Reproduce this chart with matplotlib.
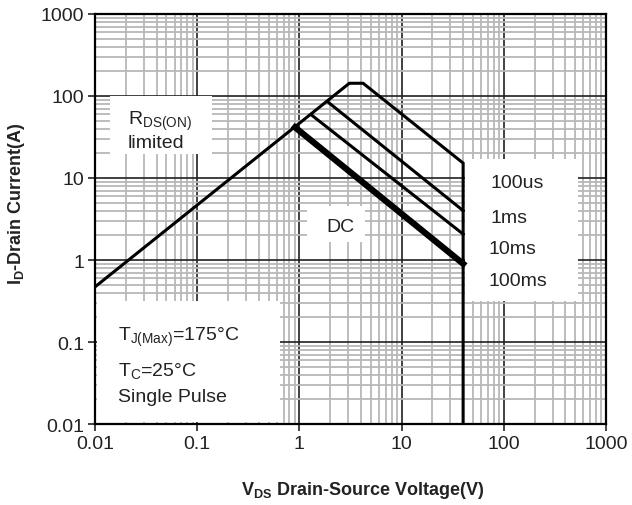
import matplotlib
matplotlib.use("Agg")
import matplotlib.pyplot as plt
from matplotlib.patches import Rectangle
from matplotlib.ticker import LogLocator, FixedLocator, FixedFormatter, NullFormatter

plt.rcParams['font.family'] = ['Liberation Sans', 'DejaVu Sans']
plt.rcParams['mathtext.fontset'] = 'custom'
plt.rcParams['mathtext.rm'] = 'Liberation Sans'
plt.rcParams['mathtext.it'] = 'Liberation Sans:italic'
plt.rcParams['mathtext.bf'] = 'Liberation Sans:bold'

# ---- data ----
v_100us = [0.01, 3.08, 4.2, 40, 40]
i_100us = [0.47, 143, 143, 15.2, 0.01]
v_1ms = [1.9, 40]
i_1ms = [84.5, 4.0]
v_10ms = [1.34, 40]
i_10ms = [57.5, 2.07]
v_dc = [0.906, 40]
i_dc = [41.5, 0.9]

x_ticks = [0.01, 0.1, 1, 10, 100, 1000]
x_tick_labels = ["0.01", "0.1", "1", "10", "100", "1000"]
y_ticks = [0.01, 0.1, 1, 10, 100, 1000]
y_tick_labels = ["0.01", "0.1", "1", "10", "100", "1000"]
duration_labels = ["100us", "1ms", "10ms", "100ms"]

fig = plt.figure(figsize=(6.32, 5.06), dpi=100)
ax = fig.add_axes([95/632, 1-425/506, 511/632, 410/506])
ax.set_xscale('log')
ax.set_yscale('log')
ax.set_xlim(0.01, 1000)
ax.set_ylim(0.01, 1000)

ax.xaxis.set_major_locator(FixedLocator(x_ticks))
ax.xaxis.set_major_formatter(FixedFormatter(x_tick_labels))
ax.yaxis.set_major_locator(FixedLocator(y_ticks))
ax.yaxis.set_major_formatter(FixedFormatter(y_tick_labels))
ax.xaxis.set_minor_locator(LogLocator(base=10, subs=range(2, 10), numticks=20))
ax.yaxis.set_minor_locator(LogLocator(base=10, subs=range(2, 10), numticks=20))
ax.xaxis.set_minor_formatter(NullFormatter())
ax.yaxis.set_minor_formatter(NullFormatter())

ax.set_axisbelow(True)
ax.grid(which='minor', color='#b8b8b8', linewidth=1.3)
ax.grid(which='major', color='#202020', linewidth=1.2)
ax.tick_params(which='major', direction='out', length=5, width=1.2, labelsize=14, colors='#222222', pad=3)
ax.tick_params(which='minor', length=0)
for s in ax.spines.values():
    s.set_linewidth(1.6)
    s.set_color('black')
    s.set_zorder(5)

def frac(px, py):
    return (px - 95) / 511, (425 - py) / 410

def white_box(x0, y0, x1, y1):
    fx0, fy1 = frac(x0, y0)
    fx1, fy0 = frac(x1, y1)
    ax.add_patch(Rectangle((fx0, fy0), fx1 - fx0, fy1 - fy0, transform=ax.transAxes,
                           facecolor='white', edgecolor='none', zorder=2))

white_box(110, 97, 212, 155)
white_box(307, 207, 365, 243)
white_box(465, 160, 578, 302)
white_box(97, 302, 280, 423)

ax.plot(v_100us, i_100us, color='black', lw=2.2, zorder=3, solid_joinstyle='miter')
ax.plot(v_1ms, i_1ms, color='black', lw=2.2, zorder=3)
ax.plot(v_10ms, i_10ms, color='black', lw=2.2, zorder=3)
ax.plot(v_dc, i_dc, color='black', lw=4.5, zorder=3)

def label(px, py, s, ha='left', size=14):
    fx, fy = frac(px, py)
    ax.text(fx, fy, s, transform=ax.transAxes, ha=ha, va='center', fontsize=size,
            color='#222222', zorder=4)

label(128, 121, r'R$_{\mathrm{DS(ON)}}$')
label(128, 144, 'limited')
label(340, 228, 'DC', ha='center')
ys = [184, 219, 250, 282]
xs = [491, 490, 488, 488]
for s, x, y in zip(duration_labels, xs, ys):
    label(x, y, s)
label(118, 337, r'T$_{\mathrm{J(Max)}}$=175°C')
label(118, 371, r'T$_{\mathrm{C}}$=25°C')
label(118, 397, 'Single Pulse')

fig.text(363/632, 1-491/506, r'V$_{\mathbf{DS}}$ Drain-Source Voltage(V)', ha='center', va='center',
         fontsize=13, fontweight='bold', color='#222222')
fig.text(17/632, 1-204/506, r'I$_{\mathbf{D}}$-Drain Current(A)', ha='center', va='center',
         rotation=90, fontsize=13, fontweight='bold', color='#222222')

fig.savefig('out.png', dpi=100)
